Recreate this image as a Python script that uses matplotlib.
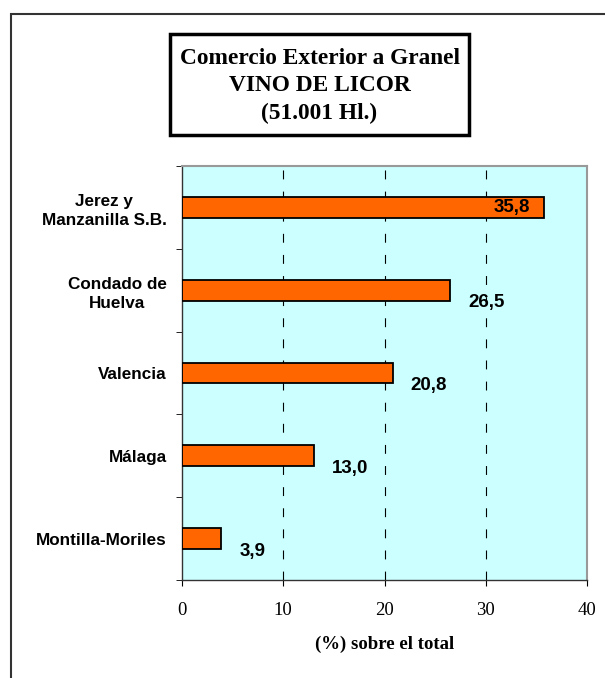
import matplotlib
matplotlib.use("Agg")
import matplotlib.pyplot as plt
from matplotlib.patches import Rectangle

# ---- data ----
categories = ["Jerez y\nManzanilla S.B.", "Condado de\nHuelva", "Valencia", "Málaga", "Montilla-Moriles"]
values = [35.8, 26.5, 20.8, 13.0, 3.9]
value_labels = ["35,8", "26,5", "20,8", "13,0", "3,9"]
xticks = [0, 10, 20, 30, 40]
title_lines = "Comercio Exterior a Granel\nVINO DE LICOR\n(51.001 Hl.)"
xlabel = "(%) sobre el total"

W, H = 605, 678
fig = plt.figure(figsize=(W / 100, H / 100), dpi=100)
fig.patch.set_facecolor("white")

# outer frame (cut by right / bottom edge)
fig.patches.append(Rectangle((11 / W, -0.1), 1.2, 1 - 14 / H + 0.1, transform=fig.transFigure,
                             fill=False, ec="#333333", lw=1.5))

ax = fig.add_axes([182 / W, 1 - 580 / H, (587 - 182) / W, (580 - 166) / H])
ax.set_facecolor("#CCFFFF")

ypos = list(range(len(categories)))
ax.barh(ypos, values, height=0.25, color="#FF6600", edgecolor="black", lw=1.3, zorder=3)

ax.set_xlim(0, 40)
ax.set_ylim(4.5, -0.5)
for x in xticks[1:-1]:
    ax.axvline(x, color="black", lw=0.8, ls=(0, (8, 11)), zorder=1)

for i, (v, lab) in enumerate(zip(values, value_labels)):
    if v > 30:
        ax.annotate(lab, (v, i), xytext=(-10, 0), textcoords="offset points", ha="right", va="center",
                    fontsize=13.5, fontweight="bold", family="Liberation Sans", zorder=4)
    else:
        ax.annotate(lab, (v, i), xytext=(13, -9), textcoords="offset points", ha="left", va="center",
                    fontsize=13.5, fontweight="bold", family="Liberation Sans", zorder=4)

ax.set_yticks(ypos)
ax.set_yticklabels(categories, fontsize=12.3, fontweight="bold", family="Liberation Sans",
                   multialignment="center", linespacing=1.38)
ax.tick_params(axis="y", which="major", length=0, pad=11)
ax.set_yticks([i - 0.5 for i in range(len(categories) + 1)], minor=True)
ax.tick_params(axis="y", which="minor", length=4, direction="out", color="black")

ax.set_xticks(xticks)
ax.set_xticklabels([str(t) for t in xticks], fontsize=13.5, family="Liberation Serif")
ax.tick_params(axis="x", length=4, direction="out", pad=12, color="black")
ax.set_xlabel(xlabel, fontsize=13.5, fontweight="bold", family="Liberation Serif", labelpad=12)

for s in ["top", "right"]:
    ax.spines[s].set_color("#999999")
    ax.spines[s].set_linewidth(1.5)
for s in ["left", "bottom"]:
    ax.spines[s].set_color("#333333")
    ax.spines[s].set_linewidth(1.0)

# title box
fig.patches.append(Rectangle((170 / W, 1 - 135 / H), (469 - 170) / W, (135 - 34) / H,
                             transform=fig.transFigure, fill=True, fc="white", ec="black", lw=2.5))
fig.text(319.5 / W, 1 - 86 / H, title_lines, ha="center", va="center", fontsize=16.8,
         fontweight="bold", family="Liberation Serif", linespacing=1.4)

fig.savefig("out.png", dpi=100)
